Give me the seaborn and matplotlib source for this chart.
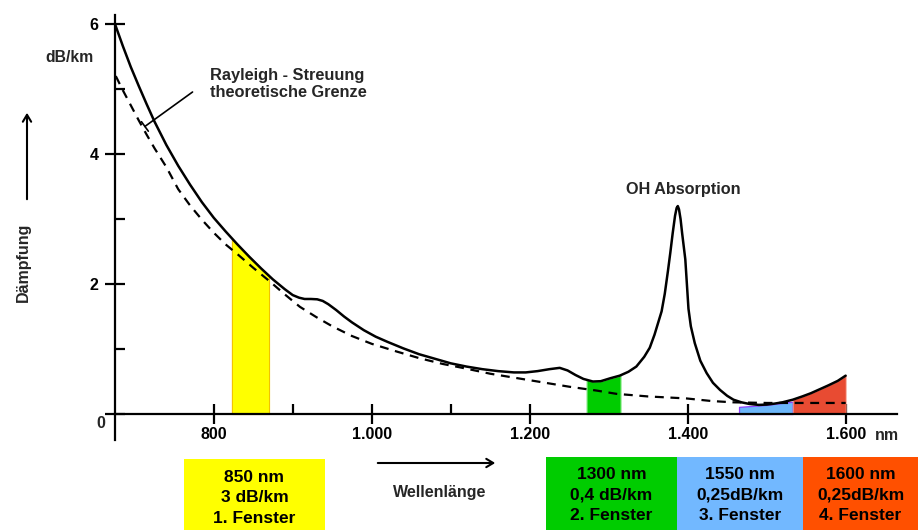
import numpy as np
import pandas as pd
import matplotlib
matplotlib.use("Agg")
import matplotlib.pyplot as plt
import seaborn as sns
from matplotlib.patches import Rectangle, FancyArrowPatch

# ---------------- data ----------------
wl_measured = [675, 685, 695, 705, 715, 725, 740, 755, 770, 785, 800, 815, 830, 845,
               860, 875, 890, 900, 908, 915, 923, 931, 938, 945, 955, 965, 975, 990,
               1005, 1020, 1040, 1060, 1080, 1100, 1120, 1140, 1160, 1180, 1195, 1210,
               1225, 1238, 1248, 1258, 1268, 1280, 1290, 1302, 1314, 1325, 1335, 1345,
               1352, 1358, 1363, 1367, 1371, 1375, 1378, 1381, 1384, 1386, 1387.5, 1389,
               1391, 1393, 1395, 1397, 1399, 1401, 1404, 1409, 1416, 1424, 1432, 1441,
               1450, 1458, 1468, 1478, 1490, 1500, 1510, 1520, 1533, 1545, 1556, 1567,
               1578, 1590, 1600]
att_measured = [6.00, 5.66, 5.34, 5.05, 4.77, 4.50, 4.14, 3.82, 3.53, 3.26, 3.02, 2.81, 2.61, 2.42,
                2.24, 2.07, 1.92, 1.83, 1.79, 1.77, 1.77, 1.765, 1.74, 1.69, 1.60, 1.50, 1.41, 1.29,
                1.19, 1.11, 1.01, 0.92, 0.85, 0.78, 0.73, 0.69, 0.66, 0.64, 0.64, 0.66,
                0.69, 0.71, 0.67, 0.60, 0.54, 0.50, 0.505, 0.55, 0.59, 0.65, 0.73, 0.88,
                1.02, 1.22, 1.42, 1.58, 1.85, 2.20, 2.48, 2.78, 3.05, 3.17, 3.20, 3.15,
                3.00, 2.78, 2.58, 2.38, 2.00, 1.62, 1.35, 1.09, 0.82, 0.63, 0.48, 0.37,
                0.28, 0.22, 0.18, 0.155, 0.14, 0.145, 0.16, 0.18, 0.22, 0.27, 0.32, 0.38,
                0.44, 0.51, 0.59]

wl_rayleigh = [676, 685, 695, 705, 715, 725, 740, 755, 770, 785, 800, 815, 830, 850,
               871, 890, 909, 930, 950, 975, 1000, 1032, 1060, 1090, 1115, 1150, 1200,
               1250, 1285, 1310, 1350, 1398, 1430, 1457, 1500, 1550, 1600]
att_rayleigh = [5.20, 4.98, 4.75, 4.52, 4.30, 4.09, 3.80, 3.46, 3.21, 2.99, 2.79, 2.61, 2.46, 2.25,
                2.04, 1.84, 1.65, 1.49, 1.35, 1.20, 1.08, 0.96, 0.86, 0.77, 0.71, 0.62, 0.52,
                0.42, 0.36, 0.31, 0.27, 0.24, 0.20, 0.18, 0.17, 0.17, 0.17]

# transmission windows (shaded areas under the curve)
win1_wl, win1_top = [823, 835, 847, 860, 870], [2.70, 2.54, 2.40, 2.24, 2.13]
win2_wl, win2_top = [1272, 1280, 1290, 1302, 1315], [0.53, 0.50, 0.505, 0.55, 0.59]
win3_wl, win3_top = [1465, 1500, 1533], [0.11, 0.14, 0.19]
win4_wl, win4_top = [1533, 1545, 1556, 1567, 1578, 1590, 1600], [0.22, 0.27, 0.32, 0.38, 0.44, 0.51, 0.59]

window_texts = ["850 nm\n3 dB/km\n1. Fenster",
                "1300 nm\n0,4 dB/km\n2. Fenster",
                "1550 nm\n0,25dB/km\n3. Fenster",
                "1600 nm\n0,25dB/km\n4. Fenster"]

x_major = [800, 1000, 1200, 1400, 1600]
x_major_labels = ["800", "1.000", "1.200", "1.400", "1.600"]
x_minor = [900, 1100, 1300, 1500]
y_major = [0, 2, 4, 6]
y_major_labels = ["", "2", "4", "6"]
y_minor = [1, 3, 5]

# ---------------- style ----------------
sns.set_theme(style="white")
plt.rcParams["font.family"] = ["Liberation Sans", "DejaVu Sans"]
plt.rcParams["font.weight"] = "bold"

W, H = 918, 530
fig = plt.figure(figsize=(W / 100, H / 100), dpi=100)
fig.patch.set_facecolor("white")


def fx(px):
    return px / W


def fy(py):
    return 1 - py / H


ax = fig.add_axes([fx(115), fy(440), fx(897 - 115), (440 - 15) / H])
ax.set_facecolor("none")

# shaded windows
ax.fill_between(win1_wl, 0, win1_top, color="#FFFF00", edgecolor="#F2C200", lw=0.8, zorder=1)
ax.fill_between(win2_wl, 0, win2_top, color="#00CC00", edgecolor="#7EE87E", lw=0.8, zorder=1)
ax.fill_between(win3_wl, 0, win3_top, color="#6CB6FA", edgecolor="#9040FF", lw=0.9, zorder=1)
ax.fill_between(win4_wl, 0, win4_top, color="#E84B32", edgecolor="#F5A090", lw=0.6, zorder=1)

df_m = pd.DataFrame({"wl": wl_measured, "att": att_measured})
df_r = pd.DataFrame({"wl": wl_rayleigh, "att": att_rayleigh})
sns.lineplot(data=df_m, x="wl", y="att", color="black", lw=1.8, ax=ax, zorder=4)
sns.lineplot(data=df_r, x="wl", y="att", color="black", lw=1.6, ax=ax, zorder=3,
             linestyle=(0, (4, 3)))

ax.set_xlim(675, 1665)
ax.set_ylim(-0.4, 6.14)
ax.set_xlabel("")
ax.set_ylabel("")

for s in ["top", "right"]:
    ax.spines[s].set_visible(False)
ax.spines["bottom"].set_position(("data", 0))
for s in ["bottom", "left"]:
    ax.spines[s].set_color("black")
    ax.spines[s].set_linewidth(1.6)
    ax.spines[s].set_zorder(5)

ax.set_xticks(x_major)
ax.set_xticklabels(x_major_labels)
ax.set_xticks(x_minor, minor=True)
ax.set_yticks(y_major)
ax.set_yticklabels(y_major_labels)
ax.set_yticks(y_minor, minor=True)

ax.tick_params(axis="both", which="major", direction="inout", length=14, width=1.6,
               color="black", labelsize=11.5, labelcolor="black", bottom=True, left=True)
ax.tick_params(axis="both", which="minor", direction="in", length=7, width=1.6,
               color="black", bottom=True, left=True)
ax.tick_params(axis="x", which="major", pad=2)
ax.tick_params(axis="y", which="major", pad=5)
for lab in ax.get_xticklabels() + ax.get_yticklabels():
    lab.set_fontweight("bold")

# axis texts
fig.text(fx(101), fy(423), "0", ha="center", va="center", fontsize=11.5, fontweight="bold")
fig.text(fx(887), fy(436), "nm", ha="center", va="center", fontsize=11.5, fontweight="bold")
fig.text(fx(69), fy(57), "dB/km", ha="center", va="center", fontsize=11.3, fontweight="bold")
fig.text(fx(23), fy(262), "Dämpfung", ha="center", va="center", rotation=90,
         fontsize=11.5, fontweight="bold")
fig.text(fx(440), fy(493), "Wellenlänge", ha="center", va="center", fontsize=11.5,
         fontweight="bold")

# arrows
fig.add_artist(FancyArrowPatch(
    (fx(27), fy(202)), (fx(27), fy(110)), transform=fig.transFigure,
    arrowstyle="->,head_length=5,head_width=3", lw=1.5, color="black",
    mutation_scale=1))
fig.add_artist(FancyArrowPatch(
    (fx(375), fy(463)), (fx(498), fy(463)), transform=fig.transFigure,
    arrowstyle="->,head_length=5,head_width=3", lw=1.5, color="black",
    mutation_scale=1))

# annotations in the plot
fig.text(fx(210), fy(84), "Rayleigh - Streuung\ntheoretische Grenze", ha="left",
         va="center", fontsize=11.8, fontweight="bold", linespacing=1.2)
ax.annotate("", xy=(710, 4.4), xytext=(776, 4.98),
            arrowprops=dict(arrowstyle="-[,widthB=0.35,lengthB=0", lw=1.2, color="black"))
fig.text(fx(683), fy(190), "OH Absorption", ha="center", va="center", fontsize=11.7,
         fontweight="bold")

# window boxes below the chart
box_specs = [(184, 325, 459, 498, "#FFFF00"), (546, 677, 457, 495, "#00CC00"),
             (677, 803, 457, 495, "#72B8FF"), (803, 918, 457, 495, "#FF5000")]
for (x0, x1, y0, yc, col), txt in zip(box_specs, window_texts):
    fig.add_artist(Rectangle((fx(x0), 0), fx(x1 - x0), (H - y0) / H,
                             transform=fig.transFigure, facecolor=col, edgecolor="none",
                             zorder=0))
    fig.text(fx((x0 + x1) / 2), fy(yc), txt, ha="center", va="center",
             fontsize=12.5, fontweight="bold", linespacing=1.45, color="black")

fig.savefig("out.png", dpi=100, facecolor="white")
